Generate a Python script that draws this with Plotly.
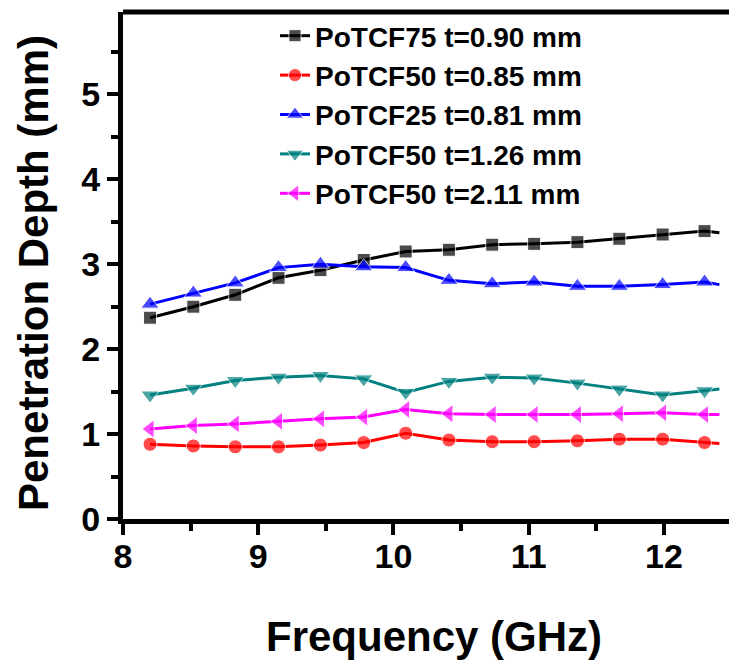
import plotly.graph_objects as go

freq = [8.2, 8.52, 8.83, 9.15, 9.46, 9.78, 10.09, 10.41, 10.73, 11.04, 11.36, 11.67, 11.99, 12.3, 12.41]

potcf75_090 = [2.37, 2.50, 2.64, 2.84, 2.93, 3.05, 3.15, 3.17, 3.23, 3.24, 3.26, 3.30, 3.35, 3.39, 3.37]
potcf50_085 = [0.88, 0.86, 0.85, 0.85, 0.87, 0.90, 1.01, 0.93, 0.91, 0.91, 0.92, 0.94, 0.94, 0.90, 0.89]
potcf25_081 = [2.53, 2.66, 2.78, 2.96, 3.00, 2.97, 2.96, 2.81, 2.77, 2.79, 2.74, 2.74, 2.76, 2.79, 2.76]
potcf50_126 = [1.46, 1.54, 1.63, 1.67, 1.69, 1.65, 1.49, 1.62, 1.67, 1.66, 1.60, 1.53, 1.46, 1.51, 1.53]
potcf50_211 = [1.06, 1.10, 1.12, 1.15, 1.18, 1.20, 1.29, 1.24, 1.23, 1.23, 1.23, 1.24, 1.25, 1.23, 1.23]

names = ["PoTCF75 t=0.90 mm", "PoTCF50 t=0.85 mm", "PoTCF25 t=0.81 mm",
         "PoTCF50 t=1.26 mm", "PoTCF50 t=2.11 mm"]
series = [potcf75_090, potcf50_085, potcf25_081, potcf50_126, potcf50_211]
colors = ["#000000", "#FF0000", "#0000FF", "#008080", "#FF00FF"]
symbols = ["square", "circle", "triangle-up", "triangle-down", "triangle-left"]
msizes = [13, 14, 16, 16, 16]

x_ticks = [8, 9, 10, 11, 12]
y_ticks = [0, 1, 2, 3, 4, 5]

FONT = "Liberation Sans, Arial, sans-serif"

# page has an 8px body margin; figure is sized so it ends at the window edge
W, H = 729, 656
L, T, B = 115, 4, 145
PW, PH = W - L, H - T - B

def px_x(page_x):
    return (page_x - 8 - L) / PW

def px_y(page_y):
    return (H - B - (page_y - 8)) / PH

fig = go.Figure()
for name, ys, c, s, ms in zip(names, series, colors, symbols, msizes):
    sizes = [ms] * (len(ys) - 1) + [0]  # last point is only the line end
    fig.add_trace(go.Scatter(
        x=freq, y=ys, name=name, mode="lines+markers",
        line=dict(color=c, width=3),
        marker=dict(symbol=s, size=sizes, color=c),
    ))

axis_common = dict(
    showline=True, linecolor="black", linewidth=5,
    ticks="outside", ticklen=11, tickwidth=4, tickcolor="black",
    showgrid=False, zeroline=False,
    tickfont=dict(family=FONT, size=34, color="black", weight="bold"),
)

fig.update_xaxes(range=[8.0, 12.54], tickvals=x_ticks, ticktext=[str(v) for v in x_ticks],
                 ticklabelstandoff=-8,
                 minor=dict(ticks="outside", dtick=0.5, ticklen=7, tickwidth=4, tickcolor="black", tick0=8),
                 **axis_common)
fig.update_yaxes(range=[0, 5.97], tickvals=y_ticks, ticktext=[str(v) for v in y_ticks],
                 minor=dict(ticks="outside", dtick=0.5, ticklen=7, tickwidth=4, tickcolor="black", tick0=0),
                 **axis_common)

fig.add_shape(type="line", xref="paper", yref="paper", x0=0, x1=1, y0=1, y1=1,
              line=dict(color="black", width=5))

fig.add_annotation(text="Frequency (GHz)", xref="paper", yref="paper",
                   x=px_x(434), y=px_y(636), xanchor="center", yanchor="middle",
                   showarrow=False, font=dict(family=FONT, size=42, color="black", weight="bold"))
fig.add_annotation(text="Penetration Depth (mm)", xref="paper", yref="paper",
                   x=px_x(33), y=px_y(273), xanchor="center", yanchor="middle",
                   textangle=-90, showarrow=False,
                   font=dict(family=FONT, size=42, color="black", weight="bold"))

fig.update_layout(
    width=W, height=H,
    margin=dict(l=L, r=0, t=T, b=B),
    paper_bgcolor="white", plot_bgcolor="white",
    showlegend=True,
    legend=dict(x=px_x(275), y=px_y(11), xanchor="left", yanchor="top",
                bgcolor="rgba(0,0,0,0)", borderwidth=0, tracegroupgap=0,
                font=dict(family=FONT, size=28, color="black", weight="bold")),
)

fig.write_html("out.html")
